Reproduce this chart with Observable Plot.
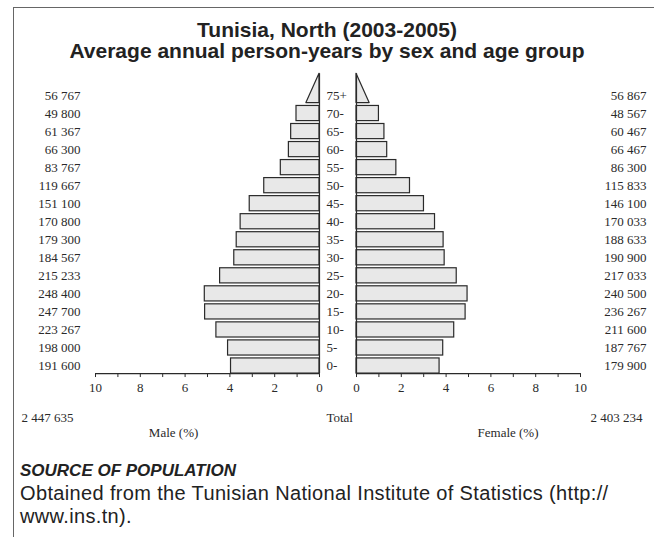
<!DOCTYPE html>
<html><head><meta charset="utf-8">
<script src="https://cdn.jsdelivr.net/npm/d3@7"></script>
<script src="https://cdn.jsdelivr.net/npm/@observablehq/plot@0.6"></script>
<style>
body{margin:0;width:654px;height:537px;position:relative;overflow:hidden;background:#fff;font-family:"Liberation Sans",Arial,sans-serif;}
#box{position:absolute;left:13px;top:7px;width:700px;height:600px;border-left:1.5px solid #666;border-top:1.5px solid #666;}
#title{position:absolute;left:0;width:654px;top:19px;text-align:center;font-weight:bold;font-size:21px;line-height:21px;color:#222;}
#chart{position:absolute;left:0;top:60px;}
#source{position:absolute;left:20px;top:458px;font-size:20px;line-height:23px;color:#222;letter-spacing:0.35px;}
#source b{font-style:italic;font-size:17px;letter-spacing:0;}
</style></head><body>
<div id="box"></div>
<div id="title">Tunisia, North (2003-2005)<br>Average annual person-years by sex and age group</div>
<div id="chart"></div>
<div id="source"><b>SOURCE OF POPULATION</b><br>Obtained from the Tunisian National Institute of Statistics (http://<br>www.ins.tn).</div>
<script>
const ageGroups = ["0-","5-","10-","15-","20-","25-","30-","35-","40-","45-","50-","55-","60-","65-","70-","75+"];
const maleCounts = [191600,198000,223267,247700,248400,215233,184567,179300,170800,151100,119667,83767,66300,61367,49800,56767];
const femaleCounts = [179900,187767,211600,236267,240500,217033,190900,188633,170033,146100,115833,86300,66467,60467,48567,56867];
const maleTotal = 2447635;
const femaleTotal = 2403234;
const tickValues = [0,2,4,6,8,10];
const tickLabels = ["0","2","4","6","8","10"];
const minorTicks = [0,1,2,3,4,5,6,7,8,9,10];

const grand = maleTotal + femaleTotal;
const fmt = v => d3.format(",")(v).replace(/,/g, " ");
const pct = v => v / grand * 100;
const G = 0.826;   // half gap between panels (in % units)
const H = 0.42;    // half bar height (rows)
const TIP = 16.2;  // top of open-ended triangle
const rows = ageGroups.map((a, i) => ({i, age: a, m: maleCounts[i], f: femaleCounts[i], mp: pct(maleCounts[i]), fp: pct(femaleCounts[i])}));
const bars = rows.slice(0, 15);
const last = rows[15];
const ink = "#2a2a2a";
const barStyle = {fill: "#e8e8e8", stroke: ink, strokeWidth: 1.2};

const plot = Plot.plot({
  width: 654, height: 390,
  margin: 0, marginBottom: 77,
  x: {type: "linear", domain: [-10 - G, 10 + G], range: [95, 580], axis: null},
  y: {type: "linear", domain: [0, 15], range: [305.5, 35], axis: null},
  style: {fontFamily: "'Liberation Serif', 'Times New Roman', serif", fontSize: "13px", color: ink, background: "transparent", overflow: "visible"},
  marks: [
    Plot.rect(bars, {x1: -G, x2: d => -G - d.mp, y1: d => d.i - H, y2: d => d.i + H, ...barStyle}),
    Plot.rect(bars, {x1: G, x2: d => G + d.fp, y1: d => d.i - H, y2: d => d.i + H, ...barStyle}),
    Plot.areaX([{y: 15 - H, a: -G, b: -G - last.mp / 2}, {y: TIP, a: -G, b: -G}], {y: "y", x1: "a", x2: "b", ...barStyle}),
    Plot.areaX([{y: 15 - H, a: G, b: G + last.fp / 2}, {y: TIP, a: G, b: G}], {y: "y", x1: "a", x2: "b", ...barStyle}),
    Plot.ruleX([-G, G], {y1: -H, y2: TIP, stroke: ink, strokeWidth: 1.2}),
    Plot.ruleY([-H], {x1: -G - 10, x2: -G, stroke: ink, strokeWidth: 1.2}),
    Plot.ruleY([-H], {x1: G, x2: G + 10, stroke: ink, strokeWidth: 1.2}),
    Plot.ruleX(minorTicks, {x: d => -G - d, y1: -H, y2: -H - 0.22, stroke: ink}),
    Plot.ruleX(minorTicks, {x: d => G + d, y1: -H, y2: -H - 0.22, stroke: ink}),
    Plot.text(tickValues, {x: d => -G - d, y: -H, dy: 14, text: (d, i) => tickLabels[i], fontSize: 13}),
    Plot.text(tickValues, {x: d => G + d, y: -H, dy: 14, text: (d, i) => tickLabels[i], fontSize: 13}),
    Plot.text(rows, {x: -10 - G - 0.67, y: "i", text: d => fmt(d.m), textAnchor: "end"}),
    Plot.text(rows, {x: -G + 0.31, y: "i", text: "age", textAnchor: "start"}),
    Plot.text(rows, {x: 10 + G + 2.95, y: "i", text: d => fmt(d.f), textAnchor: "end"}),
    Plot.text([fmt(maleTotal)], {x: -14.13, y: -2.86, text: d => d, textAnchor: "start"}),
    Plot.text(["Total"], {x: -G + 0.31, y: -2.86, text: d => d, textAnchor: "start"}),
    Plot.text([fmt(femaleTotal)], {x: 10 + G + 2.77, y: -2.86, text: d => d, textAnchor: "end"}),
    Plot.text(["Male (%)"], {x: -7.34, y: -3.69, text: d => d}),
    Plot.text(["Female (%)"], {x: 7.59, y: -3.69, text: d => d})
  ]
});
document.getElementById("chart").appendChild(plot);
</script>
</body></html>
